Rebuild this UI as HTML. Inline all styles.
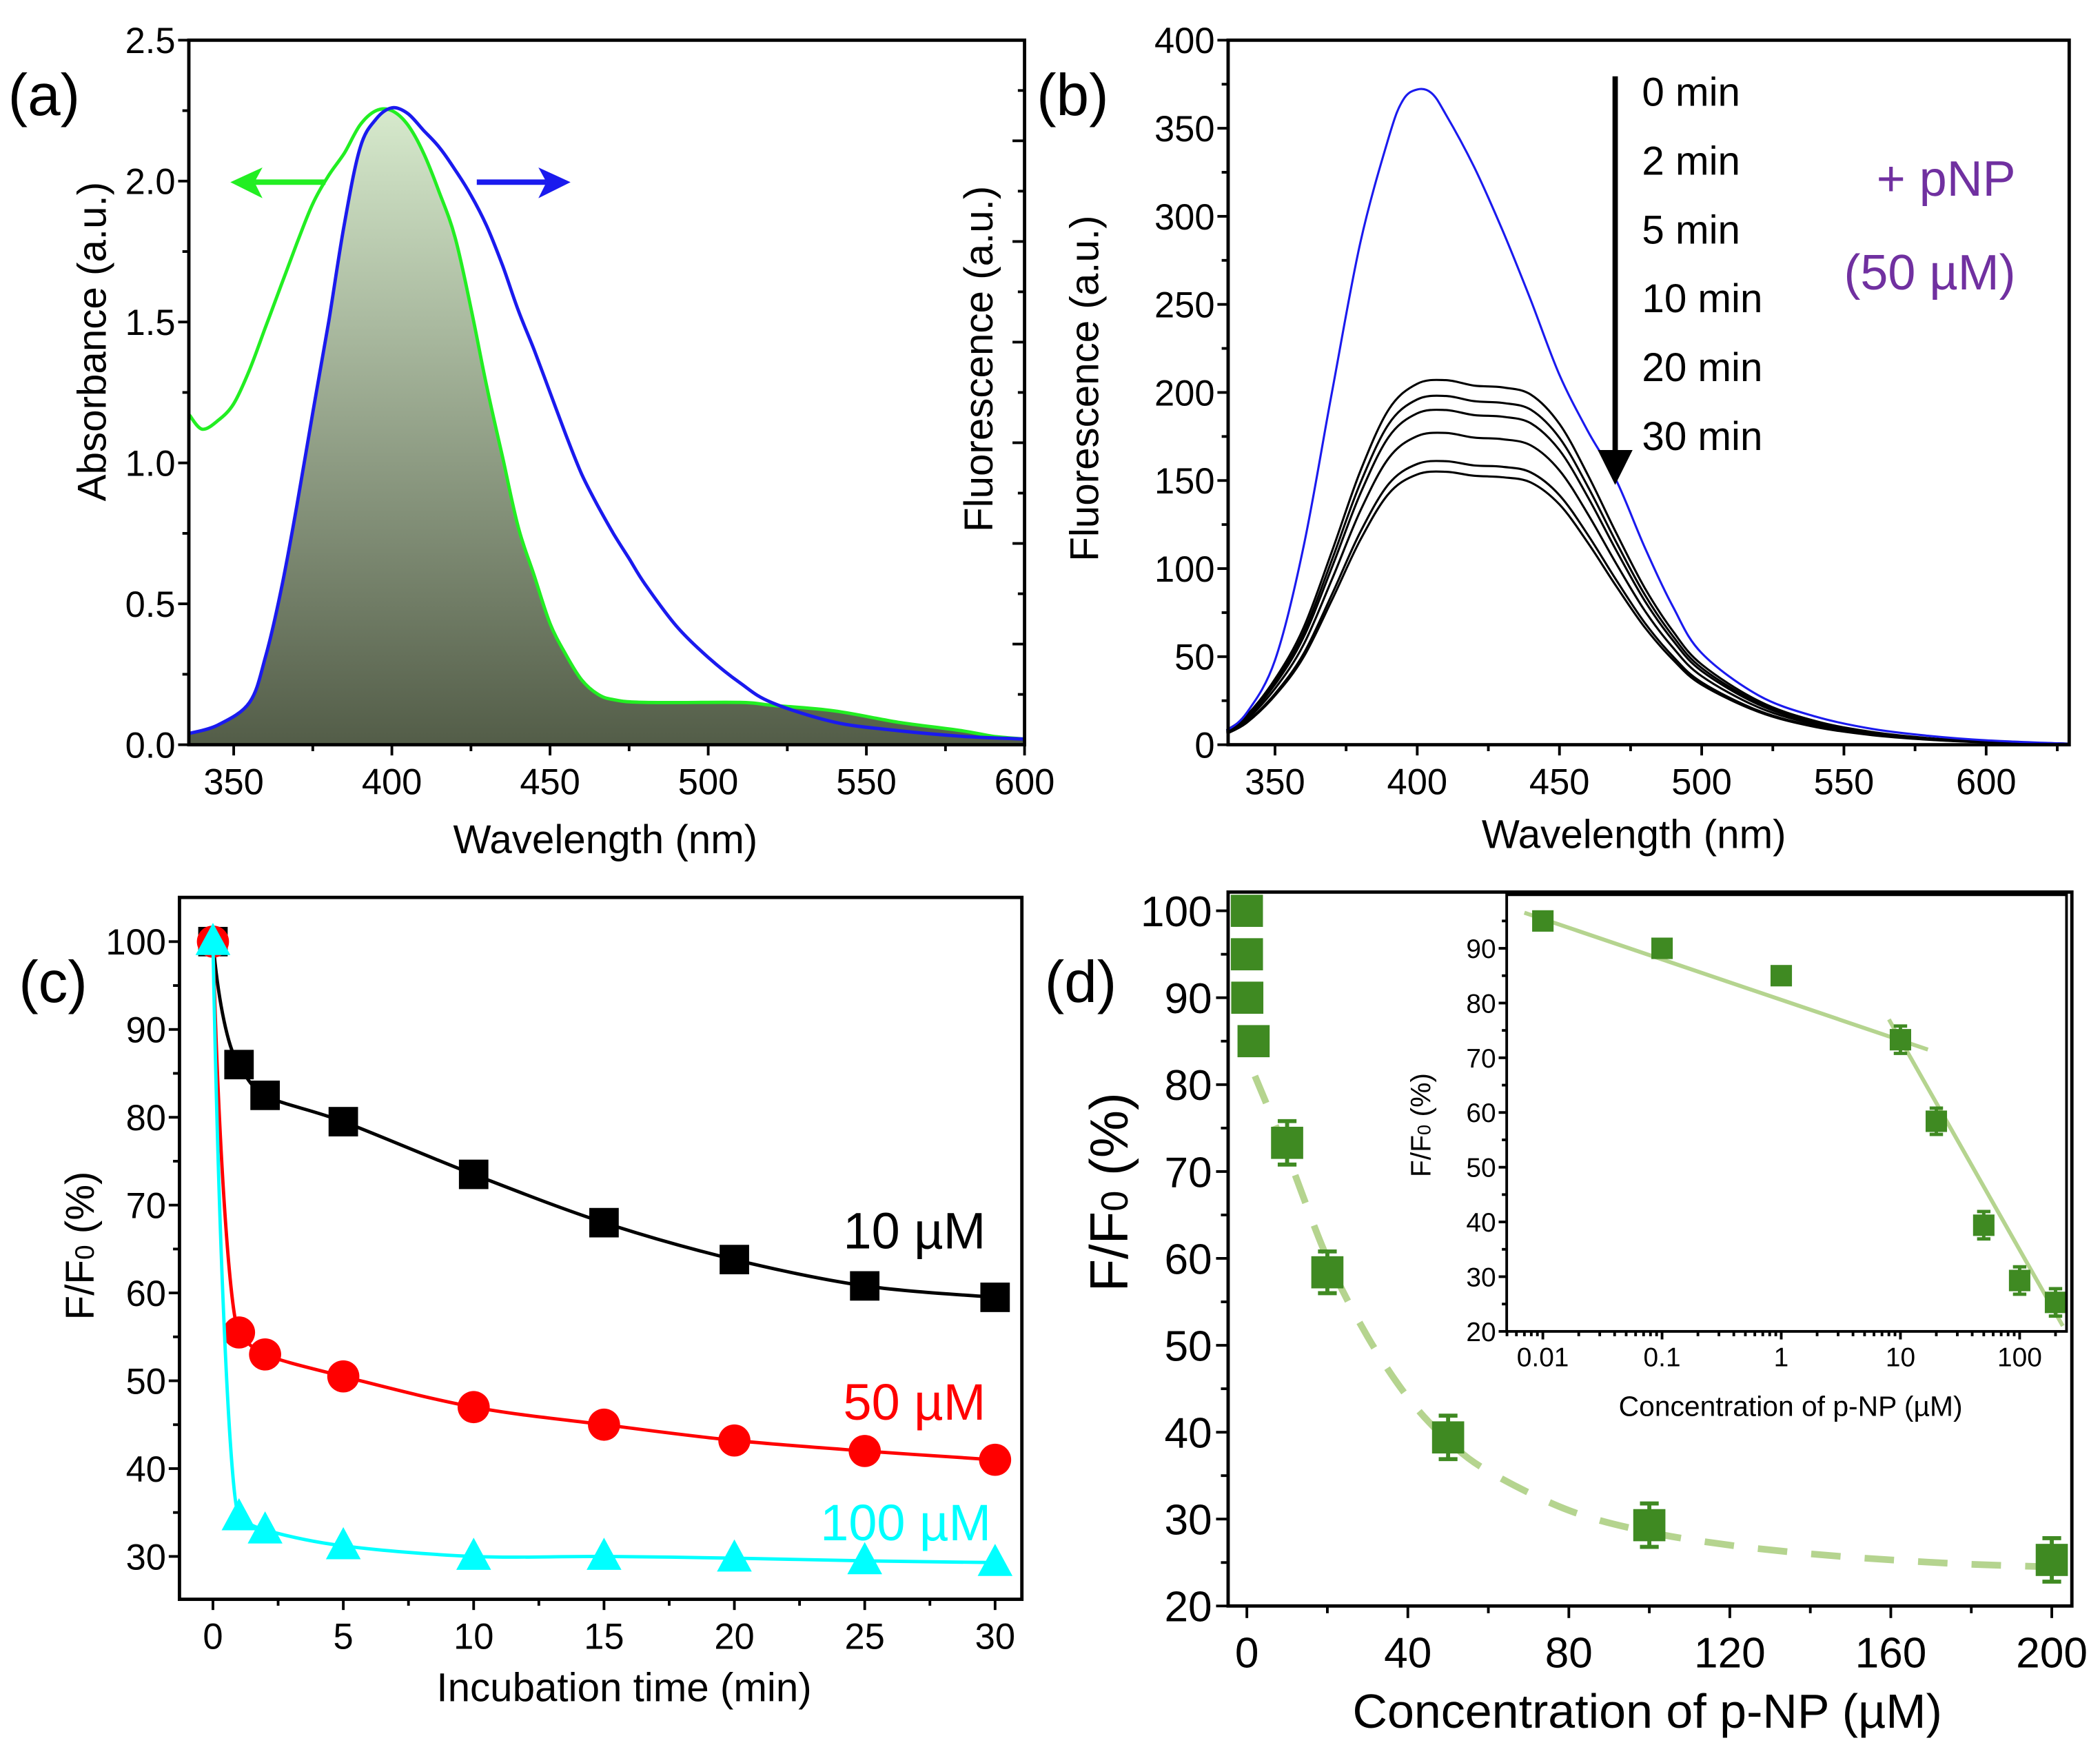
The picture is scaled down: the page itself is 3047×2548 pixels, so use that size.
<!DOCTYPE html>
<html><head><meta charset="utf-8"><style>
html,body{margin:0;padding:0;background:#fff;}
svg{display:block;font-family:"Liberation Sans",Arial,sans-serif;}
</style></head><body>
<svg id="fig" width="3047" height="2548" viewBox="0 0 1568 1311" preserveAspectRatio="none" xmlns="http://www.w3.org/2000/svg">
<defs>
<linearGradient id="shade" x1="0" y1="0" x2="0" y2="1">
<stop offset="0" stop-color="#d6e9cc"/><stop offset="1" stop-color="#535d48"/>
</linearGradient>
</defs>
<g id="pa"></g>
<g id="pb"></g>
<g id="pc"></g>
<g id="pd"></g>
</svg>
<script>
// ---- Panel A data ----
const aAbsWl = [336,340,345,350,355,360,365,370,375,380,385,390,395,400,405,410,415,420,425,430,435,440,445,450,455,460,465,470,480,510,520,540,560,580,590,600];
const aAbsVal = [1.17,1.12,1.15,1.21,1.33,1.48,1.63,1.78,1.92,2.02,2.1,2.2,2.25,2.25,2.2,2.1,1.96,1.8,1.55,1.27,1.02,0.77,0.6,0.43,0.32,0.23,0.18,0.16,0.15,0.15,0.14,0.12,0.08,0.05,0.03,0.02];
const aFlWl = [336,345,355,360,365,370,375,380,385,390,395,400,405,410,415,420,425,430,435,440,445,450,455,460,465,470,475,480,490,500,510,520,540,560,580,600];
const aFlVal = [0.04,0.07,0.15,0.31,0.55,0.85,1.18,1.5,1.85,2.12,2.22,2.26,2.24,2.18,2.12,2.04,1.95,1.84,1.7,1.54,1.4,1.25,1.1,0.96,0.85,0.75,0.66,0.57,0.42,0.31,0.22,0.15,0.08,0.05,0.03,0.02];
const aXTicks = [350,400,450,500,550,600];
const aYTicks = [0,0.5,1.0,1.5,2.0,2.5];
// ---- Panel B data ----
const bBlueWl = [333,340,350,360,370,380,390,395,400,405,410,420,430,440,450,460,470,480,490,500,520,540,560,580,600,629];
const bBlueVal = [8,18,48,112,200,285,345,366,372,370,358,328,292,252,210,178,150,112,78,52,28,16,9,5,2.5,0.5];
const bShapeWl = [333,340,350,360,370,380,390,400,410,420,430,440,450,460,470,480,490,500,520,540,560,580,600,629];
const bShape = [0.04,0.08,0.18,0.32,0.53,0.75,0.92,0.99,1,0.985,0.98,0.96,0.88,0.74,0.58,0.43,0.31,0.22,0.12,0.065,0.035,0.018,0.009,0.003];
const bPeaks = [207,198,190,177,161,155];
const bXTicks = [350,400,450,500,550,600];
const bYTicks = [0,50,100,150,200,250,300,350,400];
const bLegend = ["0 min","2 min","5 min","10 min","20 min","30 min"];
// ---- Panel C data ----
const cTime = [0,1,2,5,10,15,20,25,30];
const c10 = [100,86,82.5,79.5,73.5,68,63.8,60.8,59.5];
const c50 = [100,55.5,53,50.5,47,45,43.2,42,41];
const c100 = [100,34.5,33,31.2,30,30,29.8,29.5,29.3];
const cXTicks = [0,5,10,15,20,25,30];
const cYTicks = [30,40,50,60,70,80,90,100];
// ---- Panel D data ----
const dConc = [0,0.01,0.1,1,10,20,50,100,200];
const dVal = [100,95,90,85,73.3,58.4,39.4,29.3,25.3];
const dErr = [0,0,0,0,2.5,2.4,2.5,2.5,2.5];
const dFitX = [2,10,20,30,40,50,60,80,100,120,140,160,180,200];
const dFitY = [81,72,60,51,44,39,35.5,31,28.5,27,26,25.3,24.8,24.5];
const dXTicks = [0,40,80,120,160,200];
const dYTicks = [20,30,40,50,60,70,80,90,100];
const insX = [0.01,0.1,1,10,20,50,100,200];
const insY = [95,90,85,73.3,58.4,39.4,29.3,25.3];
const insErr = [0,0,0,2.5,2.4,2.5,2.5,2.5];
const insFit1X = [0.007,17]; const insFit1Y = [96.5,71.5];
const insFit2X = [8,230]; const insFit2Y = [77,21];
const insXTicks = [0.01,0.1,1,10,100];
const insXLabels = ["0.01","0.1","1","10","100"];
const insYTicks = [20,30,40,50,60,70,80,90];

const NS="http://www.w3.org/2000/svg";
function mk(parent,tag,attrs,text){const e=document.createElementNS(NS,tag);for(const k in attrs)e.setAttribute(k,attrs[k]);if(text!==undefined)e.textContent=text;parent.appendChild(e);return e;}
function lin(d0,d1,r0,r1){return v=>r0+(v-d0)*(r1-r0)/(d1-d0);}
function pts(xs,ys,fx,fy){return xs.map((x,i)=>fx(x).toFixed(1)+","+fy(ys[i]).toFixed(1)).join(" ");}
function smooth(xs,ys,fx,fy){
  const P=xs.map((x,i)=>[fx(x),fy(ys[i])]);let d="M"+P[0][0].toFixed(1)+","+P[0][1].toFixed(1);
  for(let i=0;i<P.length-1;i++){const p0=P[Math.max(0,i-1)],p1=P[i],p2=P[i+1],p3=P[Math.min(P.length-1,i+2)];
    const c1=[p1[0]+(p2[0]-p0[0])/6,p1[1]+(p2[1]-p0[1])/6],c2=[p2[0]-(p3[0]-p1[0])/6,p2[1]-(p3[1]-p1[1])/6];
    d+="C"+c1[0].toFixed(1)+","+c1[1].toFixed(1)+" "+c2[0].toFixed(1)+","+c2[1].toFixed(1)+" "+p2[0].toFixed(1)+","+p2[1].toFixed(1);}
  return d;}
function frame(g,x0,x1,y0,y1,w){mk(g,'rect',{x:x0,y:y0,width:x1-x0,height:y1-y0,fill:'none',stroke:'#000','stroke-width':w});}
function xticks(g,ticks,fx,y,len,minor,fs,labels,dy){
  ticks.forEach((t,i)=>{const x=fx(t);const l=mk(g,'line',{x1:x,x2:x,y1:y,y2:y+len,stroke:'#000','stroke-width':2});
    
    const tx=mk(g,'text',{x:x,y:y+dy,'font-size':fs,'text-anchor':'middle'},labels?labels[i]:String(t));
    });
  minor.forEach(t=>{const x=fx(t);mk(g,'line',{x1:x,x2:x,y1:y,y2:y+len*0.6,stroke:'#000','stroke-width':2});});
}
function yticks(g,ticks,fy,x,len,minor,fs,fmt,dx){
  ticks.forEach(t=>{const y=fy(t);mk(g,'line',{x1:x,x2:x-len,y1:y,y2:y,stroke:'#000','stroke-width':2});
    const tx=mk(g,'text',{x:x-dx,y:y+fs*0.36,'font-size':fs,'text-anchor':'end'},fmt?fmt(t):String(t));
    });
  minor.forEach(t=>{const y=fy(t);mk(g,'line',{x1:x,x2:x-len*0.6,y1:y,y2:y,stroke:'#000','stroke-width':2});});
}

// ===== Panel A =====
(function(){
const g=document.getElementById('pa');
const X0=141,X1=765,Y0=30,Y1=556;
const fx=lin(350,600,174.5,765), fy=lin(0,2.5,Y1,Y0);
const fillX=[],fillY=[];
aFlWl.forEach((w,i)=>{if(w<400){fillX.push(w);fillY.push(aFlVal[i]);}});
aAbsWl.forEach((w,i)=>{if(w>=400){fillX.push(w);fillY.push(aAbsVal[i]);}});
const d=smooth(fillX,fillY,fx,fy)+"L"+fx(600)+","+fy(0)+"L"+fx(336)+","+fy(0)+"Z";
const ar=mk(g,'path',{d:d,fill:'url(#shade)'});

const gl=mk(g,'path',{d:smooth(aAbsWl,aAbsVal,fx,fy),fill:'none',stroke:'#22ee22','stroke-width':2.5});

const bl=mk(g,'path',{d:smooth(aFlWl,aFlVal,fx,fy),fill:'none',stroke:'#1a1aee','stroke-width':2.5});

frame(g,X0,X1,Y0,Y1,2.5);
xticks(g,aXTicks,fx,Y1,8,[375,425,475,525,575],27,null,37);
yticks(g,aYTicks,fy,X0,8,[0.25,0.75,1.25,1.75,2.25],27,t=>t.toFixed(1),10);
for(let i=1;i<14;i++){const y=Y1-i*(Y1-Y0)/14;mk(g,'line',{x1:X1,x2:X1-(i%2?5:9),y1:y,y2:y,stroke:'#000','stroke-width':2});}
mk(g,'line',{x1:243,x2:190,y1:136,y2:136,stroke:'#22ee22','stroke-width':4});
const ga=mk(g,'polygon',{points:'172,136 196,125 190,136 196,148',fill:'#22ee22'});

mk(g,'line',{x1:356,x2:408,y1:136,y2:136,stroke:'#1a1aee','stroke-width':4});
const ba=mk(g,'polygon',{points:'426,136 402,125 408,136 402,148',fill:'#1a1aee'});

let t=mk(g,'text',{x:6,y:86,'font-size':44},'(a)');
t=mk(g,'text',{x:452,y:637,'font-size':30,'text-anchor':'middle'},'Wavelength (nm)');
t=mk(g,'text',{x:0,y:0,'font-size':30,'text-anchor':'middle',transform:'translate(79,255) rotate(-90)'},'Absorbance (a.u.)');
t=mk(g,'text',{x:0,y:0,'font-size':30,'text-anchor':'middle',transform:'translate(741,268) rotate(-90)'},'Fluorescence (a.u.)');
})();

// ===== Panel B =====
(function(){
const g=document.getElementById('pb');
const X0=917,X1=1545,Y0=30,Y1=556;
const fx=lin(350,600,952,1483), fy=lin(0,400,Y1,Y0);
bPeaks.forEach(pk=>{const l=mk(g,'path',{d:smooth(bShapeWl,bShape.map(s=>s*pk),fx,fy),fill:'none',stroke:'#000','stroke-width':1.6});
  });
const bl=mk(g,'path',{d:smooth(bBlueWl,bBlueVal,fx,fy),fill:'none',stroke:'#1a1aee','stroke-width':1.6});

frame(g,X0,X1,Y0,Y1,2.5);
xticks(g,bXTicks,fx,Y1,8,[375,425,475,525,575,625],27,null,37);
yticks(g,bYTicks,fy,X0,8,[25,75,125,175,225,275,325,375],27,null,10);
mk(g,'line',{x1:1206,x2:1206,y1:57,y2:338,stroke:'#000','stroke-width':4});
const ah=mk(g,'polygon',{points:'1193,336 1219,336 1206,362',fill:'#000'});

bLegend.forEach((s,i)=>{const t=mk(g,'text',{x:1226,y:79+i*51.4,'font-size':30},s);});
let t=mk(g,'text',{x:1505,y:146,'font-size':37,'text-anchor':'end',fill:'#7030a0'},'+ pNP');
t=mk(g,'text',{x:1505,y:216,'font-size':37,'text-anchor':'end',fill:'#7030a0'},'(50 µM)');
t=mk(g,'text',{x:774,y:86,'font-size':44},'(b)');
t=mk(g,'text',{x:1220,y:633,'font-size':30,'text-anchor':'middle'},'Wavelength (nm)');
t=mk(g,'text',{x:0,y:0,'font-size':30,'text-anchor':'middle',transform:'translate(820,290) rotate(-90)'},'Fluorescence (a.u.)');
})();

// ===== Panel C =====
(function(){
const g=document.getElementById('pc');
const X0=134,X1=763,Y0=670,Y1=1194;
const fx=lin(0,30,159,743), fy=lin(30,100,1162,703);
function series(vals,col,shape,name){
  const l=mk(g,'path',{d:smooth(cTime.slice(1),vals.slice(1),fx,fy)+"",fill:'none',stroke:col,'stroke-width':2.5});
  
  const l0=mk(g,'path',{d:`M${fx(0)},${fy(vals[0])}C${fx(0.25)},${fy(vals[1]+(vals[0]-vals[1])*0.4)} ${fx(0.7)},${fy(vals[1]+1)} ${fx(1)},${fy(vals[1])}`,fill:'none',stroke:col,'stroke-width':2.5});
  
  cTime.forEach((tm,i)=>{const x=fx(tm),y=fy(vals[i]);let m;
    if(shape==='sq')m=mk(g,'rect',{x:x-11,y:y-11,width:22,height:22,fill:col});
    else if(shape==='ci')m=mk(g,'ellipse',{cx:x,cy:y,rx:12,ry:12,fill:col});
    else m=mk(g,'polygon',{points:`${x},${y-14} ${x-13},${y+10} ${x+13},${y+10}`,fill:col});
    });
}
series(c10,'#000','sq','series-10um');
series(c50,'#ff0000','ci','series-50um');
series(c100,'#00ffff','tr','series-100um');
frame(g,X0,X1,Y0,Y1,2.5);
xticks(g,cXTicks,fx,Y1,8,[2.5,7.5,12.5,17.5,22.5,27.5],27,null,37);
yticks(g,cYTicks,fy,X0,8,[35,45,55,65,75,85,95],27,null,10);
let t=mk(g,'text',{x:736,y:932,'font-size':38,'text-anchor':'end'},'10 µM');
t=mk(g,'text',{x:736,y:1060,'font-size':38,'text-anchor':'end',fill:'#ff0000'},'50 µM');
t=mk(g,'text',{x:740,y:1150,'font-size':38,'text-anchor':'end',fill:'#00ffff'},'100 µM');
t=mk(g,'text',{x:14,y:748,'font-size':44},'(c)');
t=mk(g,'text',{x:466,y:1270,'font-size':30,'text-anchor':'middle'},'Incubation time (min)');
t=mk(g,'text',{x:0,y:0,'font-size':30,'text-anchor':'middle',transform:'translate(70,930) rotate(-90)'});t.innerHTML='F/F<tspan font-size="20">0</tspan> (%)';
})();

// ===== Panel D =====
(function(){
const g=document.getElementById('pd');
const X0=917,X1=1547,Y0=666,Y1=1199;
const fx=lin(0,200,931,1532), fy=lin(20,100,1199,680);
const col='#3f8a22';
const fl=mk(g,'path',{d:smooth(dFitX,dFitY,fx,fy),fill:'none',stroke:'#b5d48f','stroke-width':5,'stroke-dasharray':'22,18'});

dConc.forEach((c,i)=>{const x=fx(c)+(c===1?2:0),y=fy(dVal[i]);
  if(dErr[i]>0){const e1=fy(dVal[i]+dErr[i]),e2=fy(dVal[i]-dErr[i]);
    mk(g,'path',{d:`M${x},${e1}V${e2}M${x-7},${e1}H${x+7}M${x-7},${e2}H${x+7}`,stroke:col,'stroke-width':3,fill:'none'});}
  const r=mk(g,'rect',{x:x-12,y:y-12,width:24,height:24,fill:col});
  });
frame(g,X0,X1,Y0,Y1,2.5);
xticks(g,dXTicks,fx,Y1,9,[20,60,100,140,180],32,null,46);
yticks(g,dYTicks,fy,X0,9,[25,35,45,55,65,75,85,95],32,null,12);
let t=mk(g,'text',{x:780,y:748,'font-size':44},'(d)');
t=mk(g,'text',{x:1230,y:1290,'font-size':36,'text-anchor':'middle'},'Concentration of p-NP (µM)');
t=mk(g,'text',{x:0,y:0,'font-size':40,'text-anchor':'middle',transform:'translate(842,890) rotate(-90)'});t.innerHTML='F/F<tspan font-size="28">0</tspan> (%)';
const I0=1125,I1=1543,J0=668,J1=994;
const ix=v=>1152+(Math.log10(v)+2)*89, iy=lin(20,90,J1,708);
const ig=mk(g,'g',{});
mk(ig,'rect',{x:I0,y:J0,width:I1-I0,height:J1-J0,fill:'#fff'});
const l1=mk(ig,'polyline',{points:pts(insFit1X,insFit1Y,ix,iy),fill:'none',stroke:'#b5d48f','stroke-width':3});

const l2=mk(ig,'polyline',{points:pts(insFit2X,insFit2Y,ix,iy),fill:'none',stroke:'#b5d48f','stroke-width':3});

insX.forEach((c,i)=>{const x=ix(c),y=iy(insY[i]);
  if(insErr[i]>0){const e1=iy(insY[i]+insErr[i]),e2=iy(insY[i]-insErr[i]);
    mk(ig,'path',{d:`M${x},${e1}V${e2}M${x-5},${e1}H${x+5}M${x-5},${e2}H${x+5}`,stroke:col,'stroke-width':2.5,fill:'none'});}
  const r=mk(ig,'rect',{x:x-8,y:y-8,width:16,height:16,fill:col});
  });
frame(ig,I0,I1,J0,J1,2);
const minors=[];for(let d=-3;d<3;d++)for(let k=2;k<10;k++){const v=k*Math.pow(10,d);if(ix(v)>I0&&ix(v)<I1)minors.push(v);}
xticks(ig,insXTicks,ix,J1,6,minors,20,insXLabels,26);
yticks(ig,insYTicks,iy,I0,6,[25,35,45,55,65,75,85,95],20,null,8);
t=mk(ig,'text',{x:1337,y:1057,'font-size':21,'text-anchor':'middle'},'Concentration of p-NP (µM)');
t=mk(ig,'text',{x:0,y:0,'font-size':21,'text-anchor':'middle',transform:'translate(1068,840) rotate(-90)'});t.innerHTML='F/F<tspan font-size="14">0</tspan> (%)';
})();
</script>
</body></html>
